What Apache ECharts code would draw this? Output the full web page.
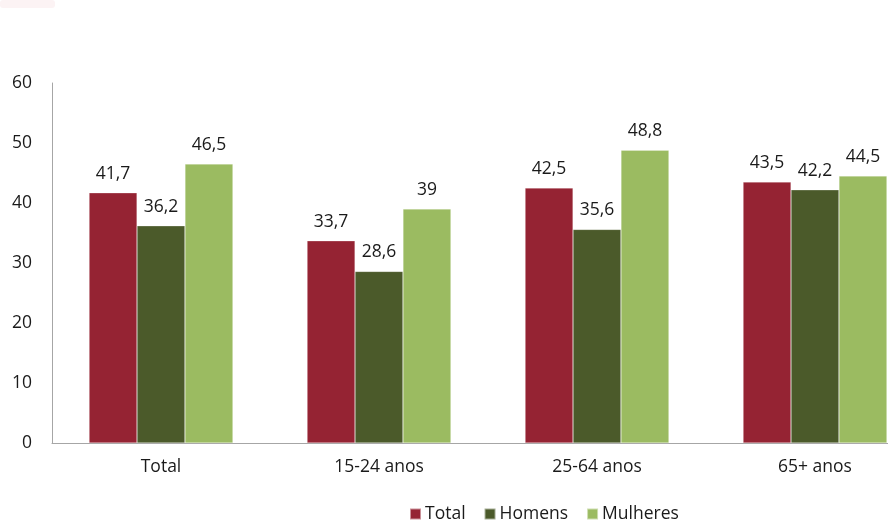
<!DOCTYPE html>
<html><head><meta charset="utf-8">
<script src="https://cdn.jsdelivr.net/npm/echarts@6/dist/echarts.min.js"></script>
<style>html,body{margin:0;padding:0;background:#fff;overflow:hidden;width:888px;height:525px}#c{width:924px;height:525px}</style>
</head><body><div id="c"></div>
<script>
var categories = ['Total', '15-24 anos', '25-64 anos', '65+ anos'];
var seriesNames = ['Total', 'Homens', 'Mulheres'];
var totalValues = [41.7, 33.7, 42.5, 43.5];
var homensValues = [36.2, 28.6, 35.6, 42.2];
var mulheresValues = [46.5, 39, 48.8, 44.5];
var yTicks = [0, 10, 20, 30, 40, 50, 60];
var colors = ['#952333', '#4b5a2a', '#9bbb61'];
var font = '"Open Sans", sans-serif';
var fs = 17.5;
var chart = echarts.init(document.getElementById('c'));
function fmt(p){ return String(p.value).replace('.', ','); }
function mk(name, data, i){
  return {name: name, type: 'bar', data: data, barGap: '0%', barCategoryGap: '34%',
    itemStyle: {color: colors[i], borderColor: 'rgba(255,255,255,0.5)', borderWidth: 0.5},
    label: {show: true, position: 'top', distance: 10, formatter: fmt, color: '#1a1a1a', fontSize: fs, fontFamily: font}};
}
chart.setOption({
  animation: false,
  color: colors,
  graphic: [{type: 'rect', shape: {x: 0, y: 0, width: 55, height: 8, r: 3}, style: {fill: '#fcf3f4'}}],
  grid: {left: 52, right: 0, top: 83, bottom: 82, containLabel: false},
  legend: {bottom: -3, left: 404, itemWidth: 11, itemHeight: 11, itemGap: 18, icon: 'rect',
    textStyle: {fontSize: fs, fontFamily: font, color: '#1a1a1a', padding: [0, 0, 0, -1]}, data: seriesNames},
  xAxis: {type: 'category', data: categories,
    axisLine: {lineStyle: {color: '#a6a6a6', width: 1}}, axisTick: {show: false},
    axisLabel: {fontSize: fs, fontFamily: font, color: '#1a1a1a', margin: 15}},
  yAxis: {type: 'value', min: yTicks[0], max: yTicks[yTicks.length-1], interval: 10,
    axisLine: {show: true, lineStyle: {color: '#a6a6a6', width: 1}}, axisTick: {show: false},
    splitLine: {show: false},
    axisLabel: {fontSize: fs, fontFamily: font, color: '#1a1a1a', margin: 20}},
  series: [mk(seriesNames[0], totalValues, 0), mk(seriesNames[1], homensValues, 1), mk(seriesNames[2], mulheresValues, 2)]
});
</script></body></html>
